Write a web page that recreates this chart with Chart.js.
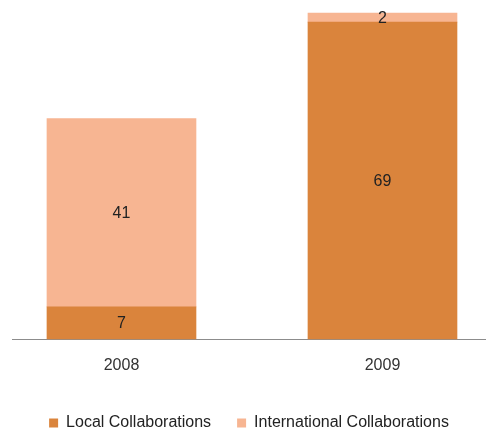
<!DOCTYPE html>
<html>
<head>
<meta charset="utf-8">
<script src="https://cdn.jsdelivr.net/npm/chart.js@4/dist/chart.umd.min.js"></script>
<style>
    html, body { margin: 0; padding: 0; background: #fff; }
    #wrap { width: 486px; height: 434px; position: relative; }
</style>
</head>
<body>
<div id="wrap"><canvas id="collabChart"></canvas></div>
<script>
// ===== DATA =====
const categories = ['2008', '2009'];
const localValues = [7, 69];
const internationalValues = [41, 2];
const seriesNames = ['Local Collaborations', 'International Collaborations'];

// ===== STYLE =====
Chart.defaults.font.family = "'Liberation Sans', Arial, sans-serif";
Chart.defaults.font.size = 16;
Chart.defaults.color = '#333';

// draw value labels in the middle of each bar segment
const segmentLabels = {
    id: 'segmentLabels',
    afterDatasetsDraw(chart) {
        const ctx = chart.ctx;
        ctx.save();
        ctx.font = "16px 'Liberation Sans', Arial, sans-serif";
        ctx.fillStyle = '#222';
        ctx.textAlign = 'center';
        ctx.textBaseline = 'middle';
        chart.data.datasets.forEach((ds, di) => {
            const meta = chart.getDatasetMeta(di);
            meta.data.forEach((bar, i) => {
                const p = bar.getProps(['x', 'y', 'base'], true);
                ctx.fillText(ds.data[i].y, p.x, (p.y + p.base) / 2 + 1);
            });
        });
        ctx.restore();
    }
};

// pull the legend a little closer to the bottom edge
const tightLegend = {
    id: 'tightLegend',
    beforeLayout(chart) {
        const lg = chart.legend;
        if (lg && !lg._tight) {
            const fit = lg.fit;
            lg.fit = function() {
                fit.call(this);
                this.height -= 7;
            };
            lg._tight = true;
        }
    }
};

function toPoints(values) {
    return values.map((v, i) => ({ x: i, y: v }));
}

// ===== CHART =====
new Chart(document.getElementById('collabChart'), {
    type: 'bar',
    data: {
        datasets: [
            {
                label: seriesNames[0],
                data: toPoints(localValues),
                backgroundColor: '#DA843C',
                barThickness: 149,
                clip: false
            },
            {
                label: seriesNames[1],
                data: toPoints(internationalValues),
                backgroundColor: '#F7B592',
                barThickness: 149,
                clip: false
            }
        ]
    },
    options: {
        responsive: true,
        maintainAspectRatio: false,
        animation: false,
        layout: { padding: { left: 12, top: 13, right: 0, bottom: 0 } },
        plugins: {
            legend: {
                position: 'bottom',
                labels: {
                    boxWidth: 9,
                    boxHeight: 9,
                    padding: 26,
                    color: '#222'
                }
            },
            tooltip: { enabled: false }
        },
        scales: {
            x: {
                type: 'linear',
                stacked: true,
                offset: false,
                min: -0.4195,
                max: 1.3966,
                afterBuildTicks: (scale) => {
                    scale.ticks = categories.map((c, i) => ({ value: i }));
                },
                afterFit: (scale) => { scale.height = 50; },
                ticks: {
                    padding: 17,
                    color: '#333',
                    callback: (v) => categories[v]
                },
                grid: { display: false, drawTicks: false, offset: false },
                border: { display: true, color: '#8c8c8c', width: 1 }
            },
            y: {
                stacked: true,
                min: 0,
                max: 71,
                display: false
            }
        }
    },
    plugins: [segmentLabels, tightLegend]
});
</script>
</body>
</html>
